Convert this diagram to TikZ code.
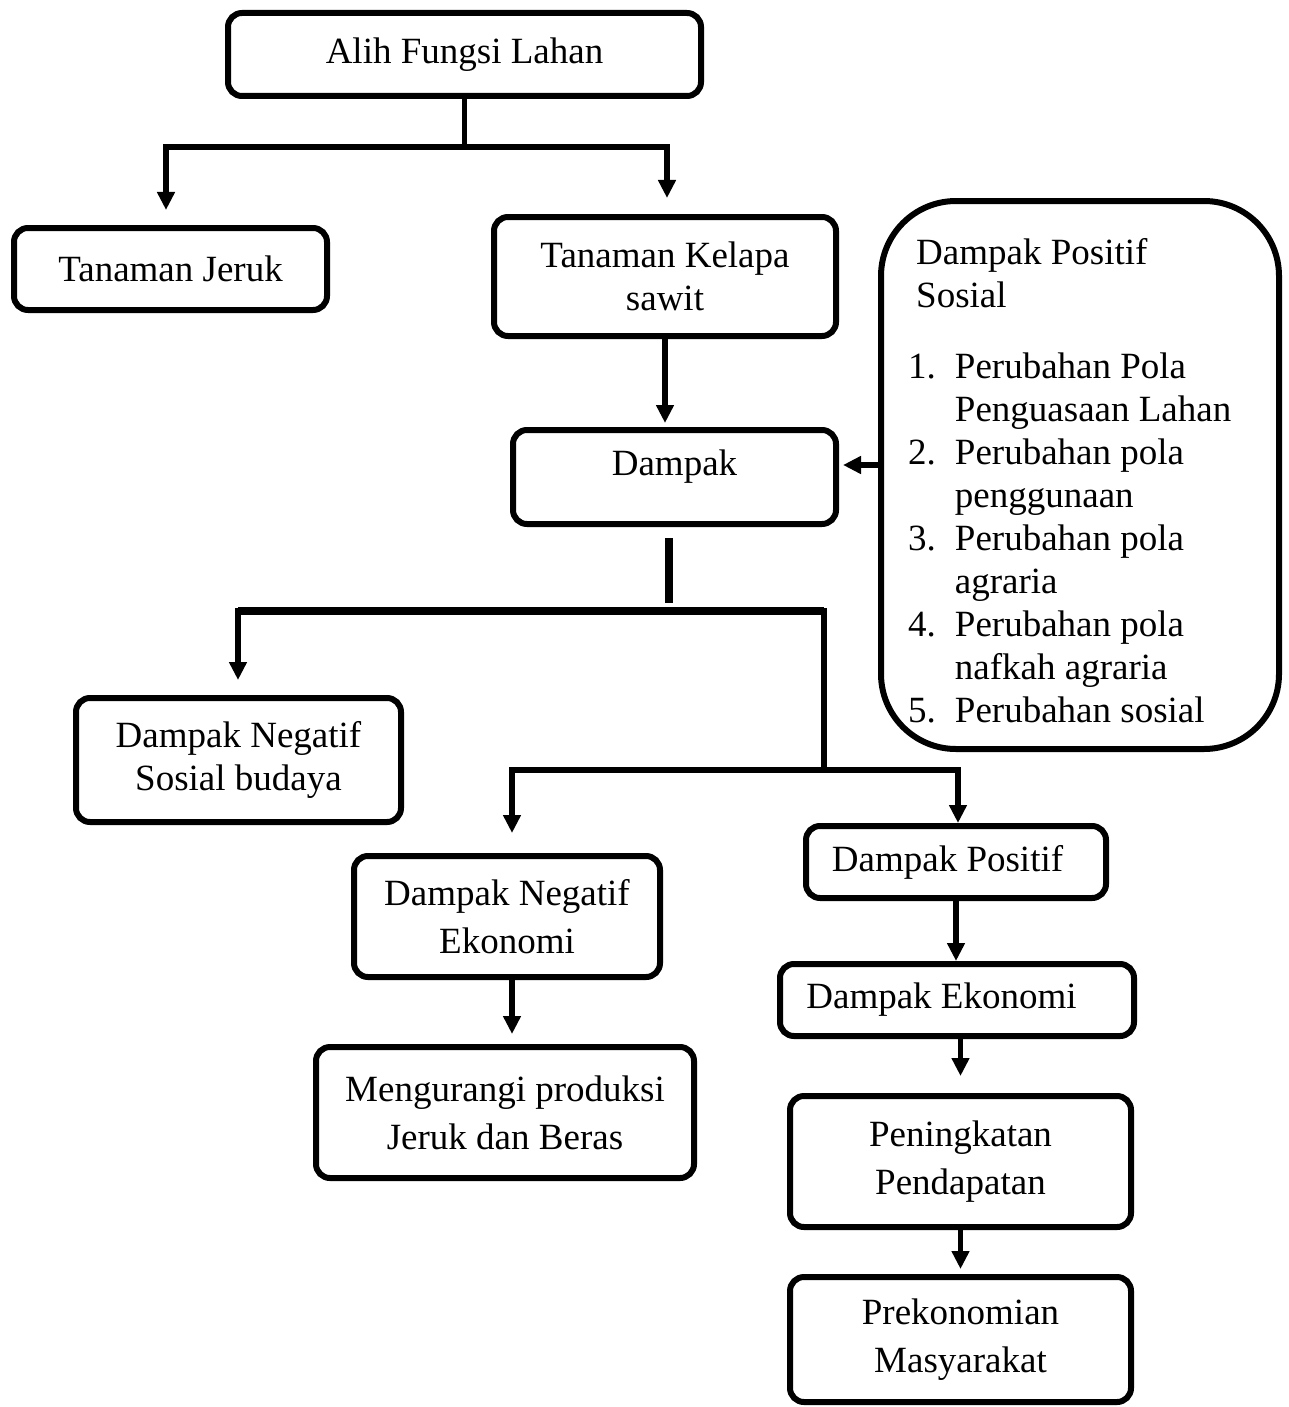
\documentclass[tikz,border=0pt]{standalone}
\usepackage{fontspec}
\setmainfont{Liberation Serif}
\usetikzlibrary{arrows.meta}
\newcommand\diagfont{\fontsize{37}{43}\selectfont}
\begin{document}
\begin{tikzpicture}[x=1pt,y=-1pt,
  box/.style={draw, line width=6pt, rounded corners=14pt, inner sep=0pt, align=center, font=\diagfont},
  conn/.style={line width=5.5pt, line cap=rect},
  arr/.style={conn, -{Triangle[width=17pt,length=18pt]}},
  heavy/.style={line width=8pt}]
\useasboundingbox (0,0) rectangle (1288,1407);

% nodes
\node[box, minimum width=473pt, minimum height=83pt] (alih) at (464.5,54.5) {Alih Fungsi Lahan};
\node[box, minimum width=313pt, minimum height=82pt] (jeruk) at (170.5,269) {Tanaman Jeruk};
\node[box, minimum width=342pt, minimum height=119pt] (kelapa) at (665,276.5) {Tanaman Kelapa\\sawit};
\node[box, minimum width=323pt, minimum height=94pt] (dampak) at (674.5,477) {\raisebox{10pt}[\height][\depth]{Dampak}};
\node[box, rounded corners=75pt, minimum width=398pt, minimum height=548pt] (sosial) at (1080,475) {};
\node[anchor=north west, inner sep=0pt, font=\diagfont] (soctext) at (908,234) {%
\begin{tabular}{@{}l@{\hspace{19pt}}l@{}}
\multicolumn{2}{@{\hspace{8pt}}l@{}}{Dampak Positif}\\
\multicolumn{2}{@{\hspace{8pt}}l@{}}{Sosial}\\[28pt]
1. & Perubahan Pola\\
   & Penguasaan Lahan\\
2. & Perubahan pola\\
   & penggunaan\\
3. & Perubahan pola\\
   & agraria\\
4. & Perubahan pola\\
   & nafkah agraria\\
5. & Perubahan sosial
\end{tabular}};
\node[box, minimum width=325pt, minimum height=124pt] (dns) at (238.5,760) {Dampak Negatif\\Sosial budaya};
\node[box, minimum width=306pt, minimum height=121pt] (dne) at (507,916.5) {Dampak Negatif\\[5pt]Ekonomi};
\node[box, minimum width=378pt, minimum height=131pt] (meng) at (505,1112.5) {Mengurangi produksi\\[5pt]Jeruk dan Beras};
\node[box, minimum width=300pt, minimum height=72pt] (dp) at (956,862) {Dampak Positif\hspace{17pt}\mbox{}};
\node[box, minimum width=354pt, minimum height=72pt] (de) at (957,1000) {Dampak Ekonomi\hspace{31pt}\mbox{}};
\node[box, minimum width=341pt, minimum height=131pt] (pp) at (960.5,1161.5) {Peningkatan\\[5pt]Pendapatan};
\node[box, minimum width=341pt, minimum height=125pt] (pm) at (960.5,1339.5) {Prekonomian\\[5pt]Masyarakat};

% coordinates
\coordinate (bL) at (166,147);
\coordinate (bR) at (667,147);
\coordinate (stubA) at (669,538);
\coordinate (stubB) at (669,603);
\coordinate (hL) at (238,611);
\coordinate (hR) at (824,611);
\coordinate (gR) at (824,770);
\coordinate (gL) at (512,770);
\coordinate (gP) at (958,770);
\coordinate (sArr) at (881,465);

% connectors
\draw[conn] (alih.south) -- (alih.south |- bL);
\draw[arr, shorten >=15pt] (bR) -- (bL) -- (bL |- jeruk.north);
\draw[arr, shorten >=16pt] (bR) -- (bR |- kelapa.north);
\draw[arr, shorten >=4pt] (kelapa.south) -- (kelapa.south |- dampak.north);
\draw[arr, shorten >=4pt] (sArr) -- (sArr -| dampak.east);
\draw[heavy] (stubA) -- (stubB);
\draw[heavy] (hR) -- (hL);
\draw[arr, shorten >=15pt] (hL) -- (hL |- dns.north);
\draw[conn] (hR) -- (gR);
\draw[arr, shorten >=20pt] (gP) -- (gL) -- (gL |- dne.north);
\draw[arr] (gR) -- (gP) -- (gP |- dp.north);
\draw[arr, shorten >=10pt] (dne.south -| gL) -- (gL |- meng.north);
\draw[arr] (dp.south) -- (dp.south |- de.north);
\draw[arr, shorten >=17pt] (de.south -| pp.north) -- (pp.north);
\draw[arr, shorten >=5pt] (pp.south) -- (pm.north);
\end{tikzpicture}
\end{document}
